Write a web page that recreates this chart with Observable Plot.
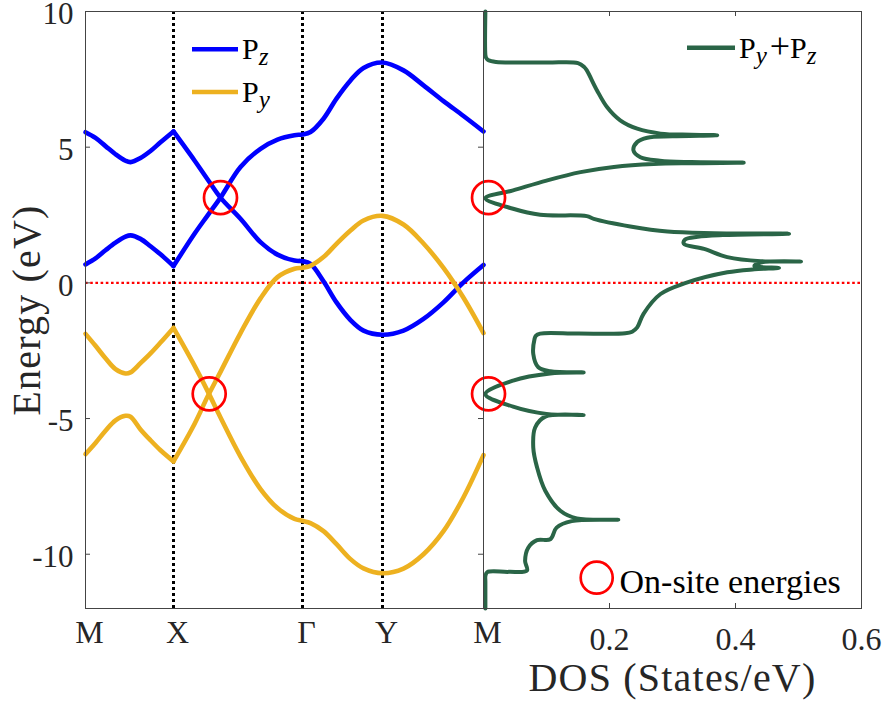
<!DOCTYPE html>
<html>
<head>
<meta charset="utf-8">
<script src="https://cdn.jsdelivr.net/npm/d3@7"></script>
<script src="https://cdn.jsdelivr.net/npm/@observablehq/plot@0.6"></script>
<style>
  body { margin: 0; background: #fff; }
  #fig { position: relative; width: 885px; height: 705px; overflow: hidden; }
  #fig svg { position: absolute; left: 0; top: 0; }
</style>
</head>
<body>
<div id="fig"></div>
<script>
// ---- k-path (band structure) ----
const kPoints = [0, 88, 217, 297, 398];
const kLabels = ["M", "X", "Γ", "Y", "M"];

// M → X segment
const kMX = [0, 10, 20, 30, 40, 45, 55, 65, 75, 88];
const pzUpperMX = [5.55, 5.34, 5.04, 4.74, 4.5, 4.45, 4.6, 4.86, 5.18, 5.58];
const pzLowerMX = [0.68, 0.9, 1.2, 1.48, 1.7, 1.75, 1.62, 1.35, 1.05, 0.62];
const pyUpperMX = [-1.88, -2.32, -2.78, -3.18, -3.34, -3.3, -2.96, -2.6, -2.2, -1.66];
const pyLowerMX = [-6.31, -5.9, -5.45, -5.07, -4.9, -4.93, -5.4, -5.8, -6.17, -6.58];

// X → Γ → Y → M segment
const kXM = [88, 109, 122, 135, 155, 175, 192, 209, 217, 225, 238, 251, 265, 278, 297, 318, 338, 358, 378, 398];
const pzFallXM = [5.58, 4.51, 3.82, 3.14, 2.36, 1.5, 1.04, 0.82, 0.8, 0.7, 0.06, -0.72, -1.37, -1.76, -1.91, -1.76, -1.33, -0.72, 0.02, 0.66];
const pzRiseXM = [0.62, 1.81, 2.48, 3.14, 4.27, 4.94, 5.28, 5.44, 5.47, 5.56, 6.05, 6.79, 7.46, 7.92, 8.12, 7.83, 7.28, 6.7, 6.15, 5.58];
const pyFallXM = [-1.66, -3.05, -3.98, -4.96, -6.4, -7.6, -8.3, -8.7, -8.77, -8.85, -9.15, -9.63, -10.18, -10.52, -10.7, -10.53, -10.0, -9.15, -7.9, -6.35];
const pyRiseXM = [-6.58, -5.2, -4.2, -3.28, -1.85, -0.57, 0.21, 0.52, 0.56, 0.63, 0.95, 1.44, 1.93, 2.3, 2.47, 2.15, 1.45, 0.55, -0.55, -1.85];

// on-site energies (band crossings) and where they sit on the path
const onsiteE = [3.14, -4.09];
const onsiteK = [135, 123.7];
const onsiteDos = [0.008, 0.008];

// ---- density of states (P_y + P_z), traced from top to bottom ----
const dosE = [10.0, 8.4, 8.3, 8.2, 8.14, 8.12, 8.1, 7.95, 7.83, 7.1, 6.48, 5.99, 5.68, 5.5, 5.46, 5.44,
  5.4, 5.35, 5.19, 4.88, 4.63, 4.5, 4.45, 4.43, 4.41, 4.38, 4.27, 4.08, 3.77, 3.41, 3.12,
  2.73, 2.51, 2.46, 2.36, 2.08, 1.89, 1.83, 1.81, 1.76, 1.7, 1.6, 1.44, 1.25, 0.95, 0.8, 0.79,
  0.75, 0.62, 0.55, 0.5, 0.39, -0.01, -0.41, -1.14, -1.64, -1.8, -1.86, -1.87, -1.87, -1.95,
  -2.07, -2.62, -3.11, -3.26, -3.3, -3.34, -3.6, -4.1, -4.56, -4.83, -4.87, -4.93, -5.33,
  -6.07, -6.8, -7.66, -8.4, -8.68, -8.73, -8.78, -9.02, -9.45, -9.48, -9.76, -10.25, -10.6,
  -10.65, -10.66, -10.8, -11.0, -12.0];
const dosVal = [0.003, 0.003, 0.004, 0.008, 0.02, 0.1, 0.15, 0.16, 0.164, 0.18, 0.196, 0.217, 0.244, 0.281, 0.33, 0.371,
  0.3, 0.26, 0.244, 0.238, 0.249, 0.28, 0.33, 0.413, 0.33, 0.27, 0.207, 0.154, 0.1, 0.047, 0.003,
  0.047, 0.09, 0.164, 0.175, 0.233, 0.292, 0.366, 0.485, 0.38, 0.34, 0.32, 0.318, 0.35, 0.387, 0.44, 0.504,
  0.44, 0.43, 0.469, 0.43, 0.387, 0.32, 0.281, 0.254, 0.244, 0.236, 0.225, 0.15, 0.09, 0.083,
  0.081, 0.079, 0.087, 0.106, 0.159, 0.106, 0.047, 0.003, 0.047, 0.1, 0.159, 0.098, 0.082,
  0.079, 0.085, 0.098, 0.122, 0.148, 0.214, 0.14, 0.116, 0.106, 0.085, 0.071, 0.066, 0.069,
  0.04, 0.006, 0.003, 0.003, 0.003];

// ---- axis ticks ----
const yTicks = [-10, -5, 0, 5, 10];
const yTickLabels = ["-10", "-5", "0", "5", "10"];
const dosTicks = [0.2, 0.4, 0.6];
const dosTickLabels = ["0.2", "0.4", "0.6"];

// ---- styling ----
const W = 885, H = 705;
const mTop = 11, mBottom = 97;
const splitX = 483, rightEdge = 861;
const frameH = H - mTop - mBottom;
const blue = "#0000ff", orange = "#edb120", green = "#2a6547";
const axisColor = "#444";
const font = "Liberation Serif";

const rows = (ks, es, id) => ks.map((k, i) => ({k, E: es[i], id}));
const pzRows = [
  ...rows(kMX, pzUpperMX, "a"), ...rows(kMX, pzLowerMX, "b"),
  ...rows(kXM, pzFallXM, "c"), ...rows(kXM, pzRiseXM, "d")
];
const pyRows = [
  ...rows(kMX, pyUpperMX, "a"), ...rows(kMX, pyLowerMX, "b"),
  ...rows(kXM, pyFallXM, "c"), ...rows(kXM, pyRiseXM, "d")
];
const dosRows = dosE.map((E, i) => ({E, d: dosVal[i]}));
const onsite = onsiteE.map((E, i) => ({E, k: onsiteK[i], d: onsiteDos[i]}));
const kLabelOf = new Map(kPoints.map((k, i) => [k, kLabels[i]]));
const yLabelOf = new Map(yTicks.map((t, i) => [t, yTickLabels[i]]));
const dosLabelOf = new Map(dosTicks.map((t, i) => [t, dosTickLabels[i]]));

const leftW = splitX - 85;

// band structure panel
const bands = Plot.plot({
  width: W, height: H,
  marginLeft: 85, marginRight: W - splitX, marginTop: mTop, marginBottom: mBottom,
  x: {domain: [0, 398], axis: null},
  y: {domain: [-12, 10], axis: null},
  style: {background: "transparent", fontFamily: font, color: "#262626", overflow: "visible"},
  marks: [
    Plot.ruleY([0], {stroke: "#ff0000", strokeWidth: 2.2, strokeDasharray: "2.6,2.6"}),
    Plot.ruleX(kPoints.slice(1, 4), {stroke: "#000", strokeWidth: 3, strokeDasharray: "3,3"}),
    Plot.line(pzRows, {x: "k", y: "E", z: "id", stroke: blue, strokeWidth: 4.6, curve: "catmull-rom"}),
    Plot.line(pyRows, {x: "k", y: "E", z: "id", stroke: orange, strokeWidth: 4.6, curve: "catmull-rom"}),
    Plot.dot(onsite, {x: "k", y: "E", r: 16.5, stroke: "#ff0000", strokeWidth: 2.7, fill: "none"}),
    Plot.tickY(yTicks, {y: d => d, insetRight: leftW - 5, stroke: axisColor}),
    Plot.tickY(yTicks, {y: d => d, insetLeft: leftW - 5, stroke: axisColor}),
    Plot.frame({stroke: axisColor, strokeWidth: 1}),
    Plot.axisY(yTicks, {tickSize: 0, tickPadding: 12, tickFormat: d => yLabelOf.get(d), fontSize: 31, fontFamily: font, dy: 3, label: null}),
    Plot.axisX(kPoints, {tickSize: 0, tickPadding: 12, tickFormat: d => kLabelOf.get(d), fontSize: 32, fontFamily: font, dx: 4, label: null}),
    Plot.text(["Energy (eV)"], {frameAnchor: "left", textAnchor: "middle", lineAnchor: "middle", rotate: -90, dx: -58, fontSize: 40, fontFamily: font, fill: "#262626"})
  ]
});

// density of states panel
const dos = Plot.plot({
  width: W, height: H,
  marginLeft: splitX, marginRight: W - rightEdge, marginTop: mTop, marginBottom: mBottom,
  x: {domain: [0, 0.6], axis: null},
  y: {domain: [-12, 10], axis: null},
  style: {background: "transparent", fontFamily: font, color: "#262626", overflow: "visible"},
  marks: [
    Plot.ruleY([0], {stroke: "#ff0000", strokeWidth: 2.2, strokeDasharray: "2.6,2.6"}),
    Plot.line(dosRows, {x: "d", y: "E", stroke: green, strokeWidth: 4, curve: "catmull-rom"}),
    Plot.dot(onsite, {x: "d", y: "E", r: 16.5, stroke: "#ff0000", strokeWidth: 2.7, fill: "none"}),
    Plot.tickX(dosTicks.slice(0, 2), {x: d => d, insetTop: frameH - 5, stroke: axisColor}),
    Plot.tickX(dosTicks.slice(0, 2), {x: d => d, insetBottom: frameH - 5, stroke: axisColor}),
    Plot.frame({stroke: axisColor, strokeWidth: 1}),
    Plot.axisX(dosTicks, {tickSize: 0, tickPadding: 19, tickFormat: d => dosLabelOf.get(d), fontSize: 32, fontFamily: font, label: null}),
    Plot.text(["DOS (States/eV)"], {frameAnchor: "bottom", textAnchor: "middle", lineAnchor: "middle", dy: 70, fontSize: 40, fontFamily: font, fill: "#262626"})
  ]
});

const fig = document.getElementById("fig");
fig.append(bands, dos);

// legends
const svg = d3.select(fig).append("svg")
  .attr("width", W).attr("height", H);

// parts: [text, kind] with kind "sub" (italic subscript), "op" (operator) or "" (roman)
function legendEntry(x1, x2, y, color, tx, ty, parts) {
  svg.append("line").attr("x1", x1).attr("x2", x2).attr("y1", y).attr("y2", y)
    .attr("stroke", color).attr("stroke-width", 4.6);
  const t = svg.append("text").attr("x", tx).attr("y", ty).attr("font-size", 30).attr("fill", "#000");
  let shifted = 0;
  for (const [s, kind] of parts) {
    const span = t.append("tspan").text(s);
    const want = kind === "sub" ? 6 : 0;
    if (want !== shifted) { span.attr("dy", want - shifted); shifted = want; }
    if (kind === "sub") span.attr("font-size", 25).attr("font-style", "italic");
    if (kind === "op") span.attr("font-size", 36).attr("dx", 3);
  }
}
legendEntry(192, 238, 49.3, blue, 242, 59.3, [["P", ""], ["z", "sub"]]);
legendEntry(192, 238, 92, orange, 242, 101.7, [["P", ""], ["y", "sub"]]);
legendEntry(687, 735, 47.7, green, 739, 58.3, [["P", ""], ["y", "sub"], ["+", "op"], ["P", ""], ["z", "sub"]]);

svg.append("circle").attr("cx", 596.7).attr("cy", 577.7).attr("r", 16)
  .attr("fill", "none").attr("stroke", "#ff0000").attr("stroke-width", 2.7);
svg.append("text").attr("x", 619.5).attr("y", 592.7).attr("font-size", 34).attr("fill", "#000")
  .text("On-site energies");

// one serif face for every label; the two axis titles are set a little wider
d3.select(fig).selectAll("text, tspan").attr("font-family", font);
d3.select(fig).selectAll("text")
  .filter(function () { return this.textContent === "Energy (eV)" || this.textContent === "DOS (States/eV)"; })
  .attr("letter-spacing", 1.2);
</script>
</body>
</html>
